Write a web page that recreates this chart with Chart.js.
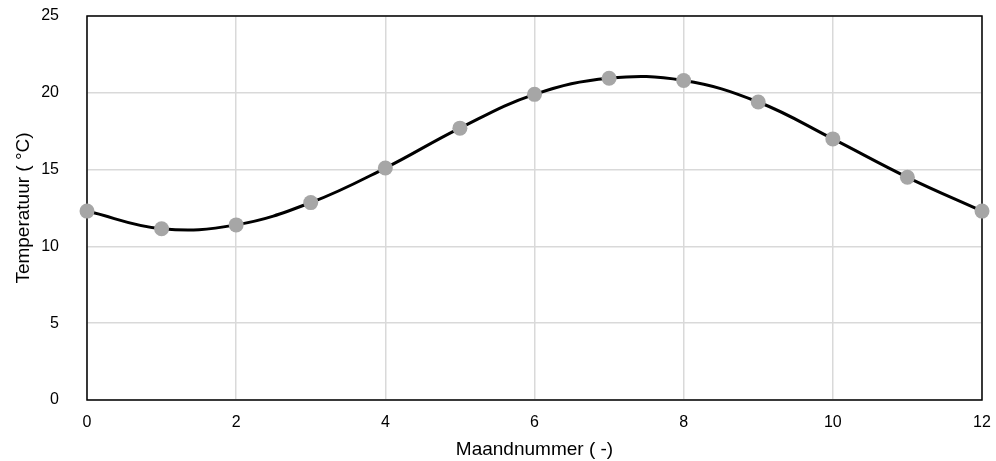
<!DOCTYPE html>
<html lang="nl">
<head>
    <meta charset="UTF-8">
    <title>Temperatuur per maand</title>
    <script src="https://cdn.jsdelivr.net/npm/chart.js"></script>
    <style>
        html, body { margin: 0; padding: 0; background: #fff; }
        #wrap { width: 996px; height: 461px; }
    </style>
</head>
<body>
    <div id="wrap"><canvas id="grafiek" width="996" height="461"></canvas></div>

    <script>
        const maanden = [0, 1, 2, 3, 4, 5, 6, 7, 8, 9, 10, 11, 12];
        const temperaturen = [12.3, 11.15, 11.4, 12.85, 15.1, 17.7, 19.9, 20.95, 20.8, 19.4, 17.0, 14.5, 12.3];

        const yTicks = [0, 5, 10, 15, 20, 25];
        const xTicks = [0, 2, 4, 6, 8, 10, 12];

        const punten = maanden.map((m, i) => ({ x: m, y: temperaturen[i] }));

        // zwart kader rond het plotgebied, onder de punten
        const kader = {
            id: 'kader',
            beforeDatasetsDraw(chart) {
                const { ctx, chartArea: a } = chart;
                ctx.save();
                ctx.strokeStyle = '#000';
                ctx.lineWidth = 1.5;
                ctx.strokeRect(a.left, a.top, a.right - a.left, a.bottom - a.top);
                ctx.restore();
            }
        };

        Chart.defaults.font.family = '"Liberation Sans", Arial, sans-serif';
        Chart.defaults.color = '#000';

        new Chart(document.getElementById('grafiek'), {
            type: 'scatter',
            data: {
                datasets: [{
                    data: punten,
                    showLine: true,
                    tension: 0.4,
                    clip: false,
                    borderColor: '#000',
                    borderWidth: 3,
                    pointRadius: 7.5,
                    pointBackgroundColor: '#a6a6a6',
                    pointBorderColor: '#a6a6a6',
                    pointBorderWidth: 0
                }]
            },
            options: {
                responsive: false,
                animation: false,
                layout: { padding: { top: 16, right: 14 } },
                plugins: {
                    legend: { display: false },
                    tooltip: { enabled: false }
                },
                scales: {
                    x: {
                        type: 'linear',
                        min: 0,
                        max: 12,
                        afterBuildTicks: s => { s.ticks = xTicks.map(v => ({ value: v })); },
                        ticks: { font: { size: 16 }, padding: 13 },
                        grid: { color: '#d9d9d9', lineWidth: 1.5, drawTicks: false },
                        border: { display: false },
                        title: { display: true, text: 'Maandnummer ( -)', font: { size: 19 }, padding: { top: 0, bottom: 0 } },
                        afterFit: s => { s.height = 61; s.paddingLeft = 0; s.paddingRight = 0; }
                    },
                    y: {
                        min: 0,
                        max: 25,
                        afterBuildTicks: s => { s.ticks = yTicks.map(v => ({ value: v })); },
                        ticks: { font: { size: 16 }, padding: 28 },
                        grid: { color: '#d9d9d9', lineWidth: 1.5, drawTicks: false },
                        border: { display: false },
                        title: { display: true, text: 'Temperatuur ( °C)', font: { size: 19 }, padding: { top: 12, bottom: 0 } },
                        afterFit: s => { s.width = 87; s.paddingTop = 0; s.paddingBottom = 0; }
                    }
                }
            },
            plugins: [kader]
        });
    </script>
</body>
</html>
